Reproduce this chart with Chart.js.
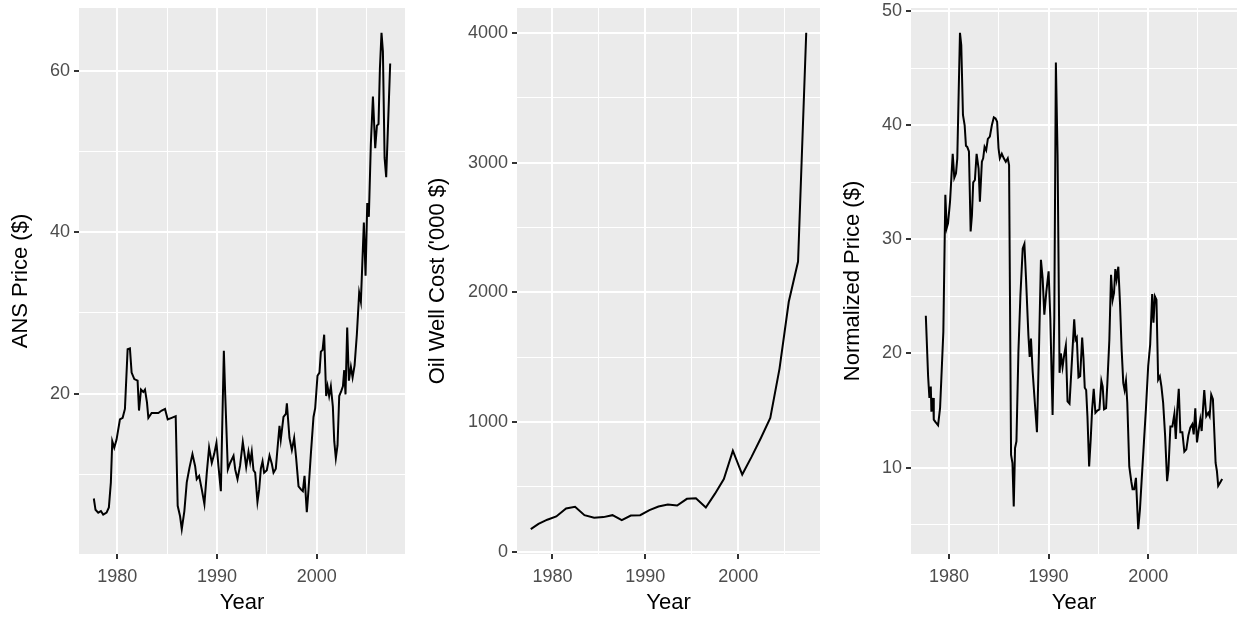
<!DOCTYPE html>
<html>
<head>
<meta charset="utf-8">
<script src="https://cdn.jsdelivr.net/npm/chart.js@4.4.1/dist/chart.umd.min.js"></script>
<style>
  html, body { margin: 0; padding: 0; background: #fff; }
  #wrap { position: relative; width: 1238px; height: 618px; overflow: hidden; }
  #wrap canvas { position: absolute; top: 0; }
</style>
</head>
<body>
<div id="wrap">
  <canvas id="ans" width="405" height="618" style="left:0px"></canvas>
  <canvas id="cost" width="400" height="618" style="left:420px"></canvas>
  <canvas id="norm" width="402" height="618" style="left:835px"></canvas>
</div>
<script>
// ANS crude price, monthly
const ansYears = [1977.65, 1977.82, 1978.09, 1978.36, 1978.59, 1978.93, 1979.16, 1979.36, 1979.50, 1979.70,
  1979.93, 1980.27, 1980.54, 1980.77, 1981.04, 1981.27, 1981.44, 1981.71, 1982.04, 1982.18,
  1982.38, 1982.61, 1982.78, 1982.98, 1983.12, 1983.45, 1983.79, 1984.12, 1984.46, 1984.79,
  1985.06, 1985.46, 1985.86, 1986.06, 1986.30, 1986.47, 1986.73, 1986.97, 1987.24, 1987.54,
  1987.81, 1987.97, 1988.21, 1988.48, 1988.74, 1988.98, 1989.21, 1989.48, 1989.72, 1989.95,
  1990.15, 1990.39, 1990.69, 1990.82, 1991.09, 1991.32, 1991.66, 1991.83, 1992.06, 1992.32,
  1992.59, 1992.73, 1992.93, 1993.16, 1993.33, 1993.49, 1993.66, 1993.83, 1994.06, 1994.23,
  1994.40, 1994.57, 1994.73, 1995.00, 1995.27, 1995.50, 1995.67, 1995.90, 1996.07, 1996.27,
  1996.40, 1996.67, 1996.91, 1997.01, 1997.27, 1997.51, 1997.74, 1997.94, 1998.18, 1998.44,
  1998.61, 1998.78, 1999.01, 1999.18, 1999.41, 1999.68, 1999.85, 2000.08, 2000.28, 2000.42,
  2000.59, 2000.75, 2000.95, 2001.09, 2001.25, 2001.42, 2001.62, 2001.76, 2001.92, 2002.09,
  2002.26, 2002.46, 2002.63, 2002.76, 2002.89, 2003.06, 2003.23, 2003.43, 2003.60, 2003.80,
  2004.03, 2004.26, 2004.43, 2004.57, 2004.73, 2004.90, 2005.07, 2005.23, 2005.43, 2005.64,
  2005.87, 2006.04, 2006.20, 2006.34, 2006.50, 2006.64, 2006.81, 2006.97, 2007.11, 2007.37];
const ansPrice = [7.0, 5.6, 5.25, 5.45, 5.0, 5.25, 5.9, 9.0, 14.1, 13.3,
  14.3, 16.8, 17.0, 18.1, 25.5, 25.6, 22.6, 21.8, 21.6, 17.9,
  20.5, 20.2, 20.5, 18.9, 17.0, 17.6, 17.6, 17.6, 17.9, 18.1,
  16.8, 17.0, 17.2, 6.1, 4.8, 3.2, 5.45, 9.0, 10.8, 12.5,
  11.0, 9.4, 9.8, 8.1, 6.3, 10.2, 13.3, 11.4, 12.5, 13.9,
  11.0, 7.9, 25.3, 20.1, 10.6, 11.4, 12.3, 10.6, 9.4, 11.1,
  14.0, 12.8, 10.9, 12.8, 11.5, 12.8, 10.5, 10.2, 6.6, 8.1,
  10.7, 11.6, 10.2, 10.5, 12.3, 11.3, 10.2, 10.7, 13.2, 16.0,
  14.3, 17.1, 17.5, 18.8, 14.5, 13.0, 14.5, 12.0, 8.5, 8.1,
  7.9, 9.8, 5.3, 8.1, 12.4, 17.1, 18.2, 22.2, 22.6, 25.2,
  25.4, 27.3, 19.7, 20.9, 19.7, 20.9, 18.4, 14.1, 12.0, 13.6,
  19.7, 20.3, 20.9, 22.9, 19.9, 28.2, 21.6, 23.3, 22.0, 23.5,
  27.35, 32.5, 31.4, 35.9, 41.2, 34.6, 43.6, 41.9, 50.9, 56.8,
  50.4, 53.2, 53.4, 60.3, 64.7, 62.4, 49.2, 46.8, 51.7, 60.9];

// Oil well drilling cost, yearly ('000 $)
const costYears = [1977.67, 1978.5, 1979.45, 1980.42, 1981.47, 1982.44, 1983.45, 1984.49, 1985.5, 1986.47,
  1987.47, 1988.44, 1989.45, 1990.45, 1991.42, 1992.43, 1993.43, 1994.48, 1995.45, 1996.52,
  1997.49, 1998.46, 1999.43, 2000.44, 2001.44, 2002.45, 2003.46, 2004.45, 2005.45, 2006.45, 2007.33];
const wellCost = [174, 215, 247, 272, 333, 346, 282, 262, 267, 282,
  244, 279, 282, 321, 349, 364, 356, 408, 413, 341,
  446, 561, 779, 595, 731, 877, 1031, 1410, 1927, 2237, 4000];

// Normalized price, monthly
const normYears = [1977.67, 1977.9, 1978.03, 1978.17, 1978.23, 1978.4, 1978.47, 1978.63, 1978.9, 1979.1,
  1979.23, 1979.43, 1979.63, 1979.77, 1979.9, 1980.1, 1980.23, 1980.37, 1980.53, 1980.7,
  1980.83, 1980.97, 1981.1, 1981.23, 1981.4, 1981.57, 1981.7, 1981.83, 1982.0, 1982.17,
  1982.3, 1982.43, 1982.6, 1982.77, 1982.97, 1983.1, 1983.3, 1983.43, 1983.57, 1983.73,
  1983.9, 1984.1, 1984.3, 1984.5, 1984.67, 1984.83, 1984.97, 1985.1, 1985.3, 1985.5,
  1985.7, 1985.9, 1986.03, 1986.23, 1986.37, 1986.5, 1986.63, 1986.77, 1986.97, 1987.17,
  1987.4, 1987.57, 1987.73, 1987.97, 1988.1, 1988.23, 1988.4, 1988.63, 1988.83, 1989.03,
  1989.23, 1989.4, 1989.57, 1989.77, 1990.0, 1990.17, 1990.4, 1990.57, 1990.73, 1990.9,
  1991.1, 1991.23, 1991.4, 1991.57, 1991.73, 1991.9, 1992.1, 1992.33, 1992.57, 1992.7,
  1992.83, 1993.0, 1993.17, 1993.37, 1993.5, 1993.63, 1993.77, 1993.9, 1994.07, 1994.23,
  1994.37, 1994.53, 1994.7, 1994.9, 1995.1, 1995.3, 1995.43, 1995.57, 1995.77, 1995.9,
  1996.1, 1996.27, 1996.43, 1996.57, 1996.7, 1996.83, 1997.0, 1997.17, 1997.33, 1997.5,
  1997.63, 1997.77, 1997.9, 1998.1, 1998.3, 1998.43, 1998.6, 1998.77, 1999.0, 1999.17,
  1999.33, 1999.57, 1999.77, 2000.0, 2000.2, 2000.4, 2000.53, 2000.67, 2000.83, 2001.0,
  2001.17, 2001.33, 2001.5, 2001.7, 2001.9, 2002.03, 2002.23, 2002.43, 2002.63, 2002.77,
  2002.9, 2003.07, 2003.23, 2003.43, 2003.63, 2003.83, 2004.03, 2004.23, 2004.43, 2004.57,
  2004.73, 2004.9, 2005.07, 2005.23, 2005.37, 2005.5, 2005.63, 2005.83, 2006.03, 2006.17,
  2006.33, 2006.5, 2006.67, 2006.77, 2006.9, 2007.03, 2007.23, 2007.43];
const normPrice = [23.3, 18.0, 16.1, 17.1, 14.9, 16.1, 14.2, 14.0, 13.7, 15.2,
  17.8, 21.9, 33.9, 31.0, 31.4, 33.3, 35.3, 37.5, 35.4, 35.8,
  37.1, 42.9, 48.1, 47.0, 40.9, 40.0, 38.2, 38.1, 37.7, 30.7,
  32.1, 35.0, 35.2, 37.5, 36.2, 33.3, 36.8, 37.1, 38.1, 37.8,
  38.8, 39.0, 40.0, 40.7, 40.6, 40.3, 38.0, 37.1, 37.5, 37.1,
  36.8, 37.1, 36.5, 11.1, 10.4, 6.6, 11.7, 12.3, 20.2, 25.1,
  29.2, 29.6, 26.6, 21.6, 19.7, 21.3, 18.4, 15.5, 13.1, 20.2,
  28.2, 26.6, 23.4, 25.4, 27.2, 23.1, 14.6, 23.1, 45.5, 37.4,
  18.3, 20.0, 18.8, 19.9, 20.7, 15.8, 15.6, 19.2, 23.0, 21.2,
  21.4, 17.9, 18.0, 21.4, 19.6, 17.0, 16.8, 14.5, 10.1, 12.5,
  15.1, 16.9, 14.8, 15.0, 15.1, 17.6, 17.1, 15.1, 15.2, 17.4,
  21.2, 26.9, 24.7, 25.3, 27.4, 26.5, 27.6, 24.4, 20.4, 17.4,
  16.8, 17.6, 15.7, 10.1, 8.8, 8.1, 8.1, 9.1, 4.6, 6.3,
  8.7, 12.2, 15.1, 18.9, 20.8, 25.2, 22.7, 25.0, 24.7, 17.7,
  18.0, 17.1, 15.7, 12.8, 8.8, 9.8, 13.6, 13.6, 14.7, 12.5,
  14.8, 16.9, 13.1, 13.1, 11.4, 11.6, 12.8, 13.5, 13.8, 12.9,
  15.2, 12.2, 13.3, 14.2, 13.2, 15.1, 16.8, 14.5, 14.8, 14.5,
  16.4, 16.0, 12.5, 10.4, 9.7, 8.4, 8.7, 9.0];

// axis breaks: grid lines (minor + major) and the labelled ones
const yearTicks = [1980, 1985, 1990, 1995, 2000, 2005];
const yearLabels = [1980, 1990, 2000];
const ansTicks = [10, 20, 30, 40, 50, 60];
const ansLabels = [20, 40, 60];
const costTicks = [0, 500, 1000, 1500, 2000, 2500, 3000, 3500, 4000];
const costLabels = [0, 1000, 2000, 3000, 4000];
const normTicks = [5, 10, 15, 20, 25, 30, 35, 40, 45, 50];
const normLabels = [10, 20, 30, 40, 50];

const FONT = "'Liberation Sans', Arial, Helvetica, sans-serif";

// ggplot style: 5% padding on each side of the data range
function expand(vals) {
  const lo = Math.min(...vals), hi = Math.max(...vals);
  const pad = (hi - lo) * 0.05;
  return [lo - pad, hi + pad];
}

const plotBg = {
  id: 'plotBg',
  beforeDraw(chart) {
    const a = chart.chartArea, c = chart.ctx;
    c.save();
    c.fillStyle = '#EBEBEB';
    c.fillRect(a.left, a.top, a.right - a.left, a.bottom - a.top);
    c.restore();
  }
};

function axisOpts(horizontal, range, ticks, labels, title, size, titlePad) {
  const isMajor = v => labels.includes(v);
  return {
    type: 'linear',
    position: horizontal ? 'bottom' : 'left',
    min: range[0],
    max: range[1],
    afterBuildTicks: s => { s.ticks = ticks.map(v => ({ value: v })); },
    afterFit: s => {
      if (horizontal) { s.height = size; s.paddingLeft = 0; s.paddingRight = 0; }
      else { s.width = size; s.paddingTop = 0; s.paddingBottom = 0; }
    },
    grid: {
      color: '#FFFFFF',
      lineWidth: c => (c.tick && isMajor(c.tick.value)) ? 2 : 1,
      tickColor: c => (c.tick && isMajor(c.tick.value)) ? '#333333' : 'rgba(0,0,0,0)',
      tickWidth: 2,
      tickLength: 5,
      drawTicks: true
    },
    border: { display: false },
    ticks: {
      color: '#4D4D4D',
      font: { family: FONT, size: 18 },
      padding: horizontal ? 7.5 : 4,
      maxRotation: 0,
      autoSkip: false,
      callback: v => isMajor(v) ? String(v) : ''
    },
    title: {
      display: true,
      text: title,
      color: '#000000',
      font: { family: FONT, size: 22 },
      padding: horizontal ? { top: 0, bottom: 1.8 } : { top: titlePad, bottom: 0 }
    }
  };
}

function makePanel(id, xs, ys, yTicks, yLabels, yTitle, yAxisWidth, yTitlePad) {
  new Chart(document.getElementById(id), {
    type: 'line',
    data: {
      datasets: [{
        data: xs.map((x, i) => ({ x: x, y: ys[i] })),
        borderColor: '#000000',
        borderWidth: 2,
        pointRadius: 0,
        tension: 0,
        fill: false
      }]
    },
    options: {
      responsive: false,
      animation: false,
      devicePixelRatio: 1,
      layout: { padding: { top: 8, right: 0, bottom: 0, left: 0 } },
      plugins: { legend: { display: false }, tooltip: { enabled: false } },
      scales: {
        x: axisOpts(true, expand(xs), yearTicks, yearLabels, 'Year', 64, 0),
        y: axisOpts(false, expand(ys), yTicks, yLabels, yTitle, yAxisWidth, yTitlePad)
      }
    },
    plugins: [plotBg]
  });
}

makePanel('ans', ansYears, ansPrice, ansTicks, ansLabels, 'ANS Price ($)', 79, 7.8);
makePanel('cost', costYears, wellCost, costTicks, costLabels, "Oil Well Cost ('000 $)", 97, 4.3);
makePanel('norm', normYears, normPrice, normTicks, normLabels, 'Normalized Price ($)', 76, 4.8);
</script>
</body>
</html>
